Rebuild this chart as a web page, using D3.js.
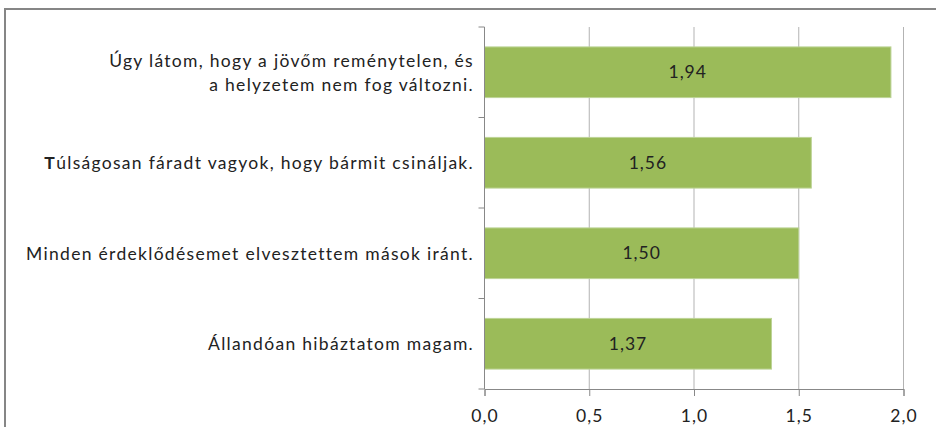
<!DOCTYPE html>
<html>
<head>
<meta charset="utf-8">
<script src="https://cdn.jsdelivr.net/npm/d3@7"></script>
<style>
  body { margin: 0; background: #fff; }
  text { font-family: Lato, "Open Sans", sans-serif; fill: #222; }
</style>
</head>
<body>
<script>
// kategoriak (fentrol lefele) es atlagertekek
const categories = [
  ['Úgy látom, hogy a jövőm reménytelen, és', 'a helyzetem nem fog változni.'],
  ['Túlságosan fáradt vagyok, hogy bármit csináljak.'],
  ['Minden érdeklődésemet elvesztettem mások iránt.'],
  ['Állandóan hibáztatom magam.']
]
const values = [1.94, 1.56, 1.50, 1.37]
const xTicks = [0, 0.5, 1.0, 1.5, 2.0]

const W = 936, H = 427
const plotLeft = 484.5, plotRight = 903.5, plotTop = 27, plotBottom = 389

const hu = d3.formatLocale({ decimal: ',', thousands: ' ', grouping: [3], currency: ['', ' Ft'] })
const fmt1 = hu.format('.1f')
const fmt2 = hu.format('.2f')

const svg = d3.select('body').append('svg')
  .attr('width', W)
  .attr('height', H)

// keret
svg.append('rect')
  .attr('x', 5).attr('y', 9)
  .attr('width', W + 10).attr('height', H + 10)
  .attr('fill', 'none')
  .attr('stroke', '#868686')
  .attr('stroke-width', 2)

const x = d3.scaleLinear().domain([0, 2]).range([plotLeft, plotRight])
const y = d3.scaleBand()
  .domain(d3.range(categories.length))
  .range([plotTop, plotBottom])
  .paddingInner(0.44)
  .paddingOuter(0.22)

// racsvonalak
svg.append('g')
  .selectAll('line')
  .data(xTicks.slice(1))
  .join('line')
  .attr('x1', d => x(d)).attr('x2', d => x(d))
  .attr('y1', plotTop).attr('y2', plotBottom)
  .attr('stroke', '#b3b3b3')

// oszlopok
svg.append('g')
  .selectAll('rect')
  .data(values)
  .join('rect')
  .attr('x', x(0))
  .attr('y', (d, i) => y(i))
  .attr('width', d => x(d) - x(0))
  .attr('height', y.bandwidth())
  .attr('fill', '#9bbb59')
  .attr('stroke', '#bdd397')
  .attr('stroke-width', 1)

// ertekcimkek
svg.append('g')
  .selectAll('text')
  .data(values)
  .join('text')
  .attr('x', d => (x(0) + x(d)) / 2)
  .attr('y', (d, i) => y(i) + y.bandwidth() / 2)
  .attr('dy', '0.35em')
  .attr('text-anchor', 'middle')
  .attr('font-size', 17.5)
  .attr('letter-spacing', 1)
  .text(d => fmt2(d))

// x tengely
const xAxis = svg.append('g')
  .attr('transform', `translate(0,${plotBottom})`)
  .call(d3.axisBottom(x).tickValues(xTicks).tickFormat(fmt1).tickSize(7).tickPadding(14))
xAxis.select('.domain').attr('stroke', '#888')
xAxis.selectAll('.tick line').attr('stroke', '#888')
xAxis.selectAll('.tick text')
  .attr('font-size', 17.5)
  .attr('letter-spacing', 1)
  .attr('font-family', 'Lato, "Open Sans", sans-serif')
  .attr('fill', '#222')

// y tengely
const gap = (y.step() - y.bandwidth()) / 2
const yTickPos = categories.map((c, i) => y(i) - gap).concat([plotBottom])
svg.append('line')
  .attr('x1', plotLeft).attr('x2', plotLeft)
  .attr('y1', plotTop).attr('y2', plotBottom)
  .attr('stroke', '#888')
svg.append('g')
  .selectAll('line')
  .data(yTickPos)
  .join('line')
  .attr('x1', plotLeft - 6).attr('x2', plotLeft)
  .attr('y1', d => d).attr('y2', d => d)
  .attr('stroke', '#888')

// kategoriacimkek
const labels = svg.append('g')
  .selectAll('text')
  .data(categories)
  .join('text')
  .attr('text-anchor', 'end')
  .attr('font-size', 17.5)
  .attr('letter-spacing', 1.3)
  .attr('y', (d, i) => y(i) + y.bandwidth() / 2)

labels.each(function(lines) {
  const t = d3.select(this)
  lines.forEach((line, k) => {
    const dy = (k - (lines.length - 1) / 2) * 24
    const ts = t.append('tspan')
      .attr('x', 474)
      .attr('dy', k === 0 ? dy + 6.5 : 24)
    if (line.startsWith('Túl')) {
      ts.append('tspan').attr('font-weight', 'bold').text('T')
      ts.append('tspan').text(line.slice(1))
    } else {
      ts.text(line)
    }
  })
})
</script>
</body>
</html>
